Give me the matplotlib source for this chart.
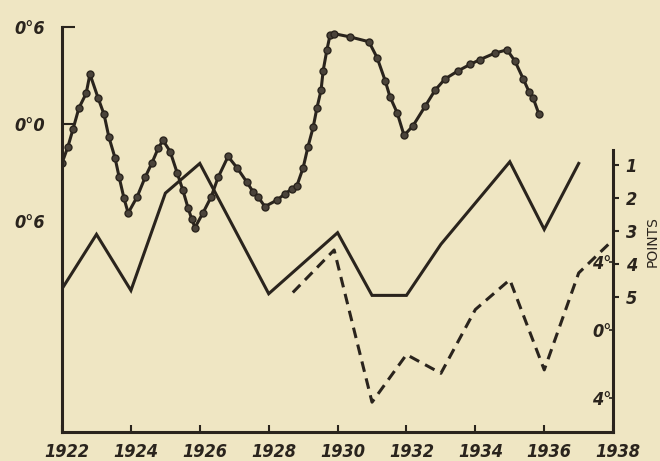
import matplotlib

matplotlib.use("Agg")
import matplotlib.pyplot as plt  # noqa: E402
import matplotlib.transforms as mtransforms  # noqa: E402

# dotted curve (left scale), one entry per printed dot / corner
dot_years = [
    1922.00, 1922.17, 1922.32, 1922.49, 1922.70, 1922.81, 1923.05, 1923.22,
    1923.36, 1923.54, 1923.66, 1923.80, 1923.92, 1924.18, 1924.41, 1924.61,
    1924.79, 1924.93, 1925.14, 1925.34, 1925.51, 1925.66, 1925.77, 1925.86,
    1926.09, 1926.33, 1926.53, 1926.82, 1927.08, 1927.37, 1927.55, 1927.69,
    1927.89, 1928.24, 1928.48, 1928.68, 1928.82, 1929.00, 1929.14, 1929.29,
    1929.40, 1929.52, 1929.58, 1929.69, 1929.78, 1929.90, 1930.36, 1930.91,
    1931.15, 1931.38, 1931.52, 1931.73, 1931.93, 1932.19, 1932.54, 1932.83,
    1933.12, 1933.50, 1933.85, 1934.14, 1934.57, 1934.92, 1935.15, 1935.39,
    1935.56, 1935.68, 1935.85,
]
dot_values = [
    -0.24, -0.14, -0.03, 0.10, 0.19, 0.31, 0.16, 0.06,
    -0.08, -0.21, -0.33, -0.46, -0.55, -0.45, -0.33, -0.24,
    -0.15, -0.10, -0.17, -0.30, -0.41, -0.52, -0.59, -0.64,
    -0.55, -0.45, -0.33, -0.20, -0.27, -0.36, -0.42, -0.45,
    -0.51, -0.47, -0.43, -0.40, -0.38, -0.27, -0.14, -0.02,
    0.10, 0.21, 0.33, 0.46, 0.55, 0.56, 0.54, 0.51,
    0.41, 0.27, 0.17, 0.07, -0.07, -0.01, 0.11, 0.21,
    0.28, 0.33, 0.37, 0.40, 0.44, 0.46, 0.39, 0.28,
    0.20, 0.16, 0.06,
]

# solid curve, right scale in points (1 at the top)
rank_years = [1922, 1923, 1924, 1925, 1926, 1928, 1930, 1931, 1932, 1933,
              1935, 1936, 1937]
rank_points = [4.75, 3.1, 4.8, 1.85, 0.95, 4.9, 3.05, 4.95, 4.95, 3.4,
               0.9, 2.95, 0.95]

# dashed curve, degrees
temp_years = [1928.7, 1929.9, 1931, 1932, 1933, 1934, 1935, 1936, 1937, 1938]
temp_degrees = [2.2, 4.7, -4.25, -1.45, -2.55, 1.2, 2.95, -2.35, 3.35, 5.3]

year_ticks = list(range(1922, 1939, 2))
left_ticks = [0.6, 0.0, -0.6]
left_labels = ["0°6", "0°0", "0°6"]
point_ticks = [1, 2, 3, 4, 5]
degree_ticks = [4, 0, -4]
degree_labels = ["4°", "0°", "4°"]

BG = "#efe6c3"
INK = "#2a241d"
LW = 2.2
TICK_FONT = dict(family="DejaVu Sans", weight="bold", style="italic",
                 stretch="condensed", size=13)

fig = plt.figure(figsize=(6.6, 4.61), dpi=100, facecolor=BG)
ax = fig.add_axes([0.094, 0.063, 0.835, 0.878])
ax.set_facecolor(BG)
ax2 = ax.twinx()
ax3 = ax.twinx()
for a in (ax2, ax3):
    a.set_facecolor("none")
    for s in a.spines.values():
        s.set_visible(False)

# dotted curve
ax.plot(dot_years, dot_values, color=INK, lw=LW, marker="o", ms=5,
        mfc="#4a433a", mec=INK, solid_joinstyle="miter")
ax.set_xlim(1922, 1938)
ax.set_ylim(-1.905, 0.6)
for side in ("top", "right"):
    ax.spines[side].set_visible(False)
for side in ("left", "bottom"):
    ax.spines[side].set_linewidth(2.2)
    ax.spines[side].set_color(INK)
ax.set_xticks(year_ticks)
ax.set_xticklabels([str(y) for y in year_ticks], **TICK_FONT)
ax.set_yticks(left_ticks)
ax.set_yticklabels(left_labels, **TICK_FONT)
ax.tick_params(axis="x", direction="in", length=5, width=1.5, color=INK,
               pad=8, labelcolor=INK)
ax.tick_params(axis="y", direction="in", length=9, width=1.5, color=INK,
               pad=12, labelcolor=INK)
ax.yaxis.get_major_ticks()[2].tick1line.set_visible(False)
shift = mtransforms.ScaledTranslation(5 / 100, 0, fig.dpi_scale_trans)
for lab in ax.get_xticklabels():
    lab.set_transform(lab.get_transform() + shift)

# solid curve with the points scale on the right
ax2.plot(rank_years, rank_points, color=INK, lw=LW, solid_joinstyle="miter")
ax2.set_ylim(9.09, -3.18)
ax2.spines["right"].set_visible(True)
ax2.spines["right"].set_linewidth(2.2)
ax2.spines["right"].set_color(INK)
ax2.spines["right"].set_bounds(9.09, 0.55)
ax2.set_yticks(point_ticks)
ax2.set_yticklabels([str(p) for p in point_ticks], **TICK_FONT)
ax2.tick_params(axis="y", direction="out", length=4, width=1.5, color=INK,
                pad=5, labelcolor=INK)
ax2.text(1.072, 0.47, "POINTS", transform=ax2.transAxes, rotation=90,
         ha="center", va="center", fontsize=10, color=INK)

# dashed curve with the degree labels inside the right spine
ax3.plot(temp_years, temp_degrees, color=INK, lw=LW,
         linestyle=(0, (3.5, 2.2)))
ax3.set_ylim(-6.0, 17.8)
ax3.set_yticks(degree_ticks)
ax3.set_yticklabels(degree_labels, **TICK_FONT)
ax3.tick_params(axis="y", direction="in", length=3, width=1.2, color=INK,
                pad=-1, labelcolor=INK)
for lab in ax3.get_yticklabels():
    lab.set_horizontalalignment("right")

fig.savefig("out.png", dpi=100, facecolor=BG)
